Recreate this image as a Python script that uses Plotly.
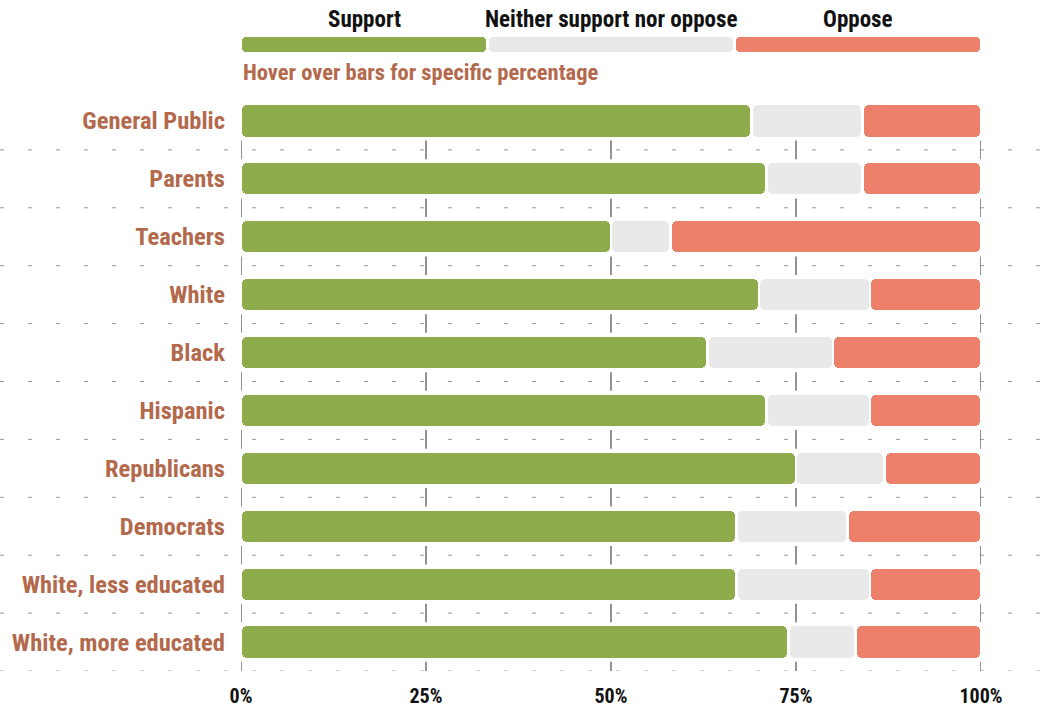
import plotly.graph_objects as go

categories = ["General Public", "Parents", "Teachers", "White", "Black", "Hispanic",
              "Republicans", "Democrats", "White, less educated", "White, more educated"]
support = [69, 71, 50, 70, 63, 71, 75, 67, 67, 74]
neither = [15, 13, 8, 15, 17, 14, 12, 15, 18, 9]
oppose = [16, 16, 42, 15, 20, 15, 13, 18, 15, 17]

series_names = ["Support", "Neither support nor oppose", "Oppose"]
series_values = [support, neither, oppose]
colors = ["#8fac4c", "#e8e9e8", "#ec806b"]
legend_share = [100 / 3, 100 / 3, 100 / 3]

tick_vals = [0, 25, 50, 75, 100]
tick_text = ["0%", "25%", "50%", "75%", "100%"]

FONT = "Roboto Condensed, Liberation Sans Narrow, Arial Narrow, DejaVu Sans Condensed, Roboto, sans-serif"
BROWN = "#b3694b"
GAP = 0.4  # visual gap between segments (axis units)

fig = go.Figure()


def add_segments(ycats, values, starts, color, name, yaxis, width, radius, hover):
    fig.add_trace(go.Bar(
        y=ycats, x=[max(v - GAP, 0) for v in values],
        base=[s + GAP / 2 for s in starts], orientation="h",
        name=name, yaxis=yaxis, width=width,
        marker=dict(color=color, cornerradius=radius, line=dict(width=0)),
        customdata=values,
        hovertemplate=("%{y}<br>" + name + ": %{customdata}%<extra></extra>") if hover else None,
        hoverinfo=None if hover else "skip",
        showlegend=False,
    ))


starts = [0] * len(categories)
for name, vals, col in zip(series_names, series_values, colors):
    add_segments(categories, vals, starts, col, name, "y", 0.54, 5, True)
    starts = [s + v for s, v in zip(starts, vals)]

# legend strip
lstart = 0
for name, share, col in zip(series_names, legend_share, colors):
    add_segments(["legend"], [share], [lstart], col, name, "y2", 1, 4, False)
    lstart += share

shapes = []
for i in range(len(categories)):
    yy = i + 0.5
    shapes.append(dict(type="line", xref="paper", yref="y", x0=-0.3257, x1=1.1,
                       y0=yy, y1=yy, line=dict(color="#999999", width=1, dash="4px,24px"),
                       layer="below"))
    for tv in tick_vals:
        shapes.append(dict(type="line", xref="x", yref="y", x0=tv, x1=tv,
                           y0=yy - 0.16, y1=yy + 0.16,
                           line=dict(color="#6f6f6f", width=1.5), layer="below"))

annotations = []
cum = 0
for name, share in zip(series_names, legend_share):
    annotations.append(dict(x=cum + share / 2, y=0.985, xref="x", yref="paper",
                            text=name, showarrow=False, xanchor="center", yanchor="middle",
                            font=dict(family=FONT, size=23, color="#111111", weight=700)))
    cum += share
annotations.append(dict(x=0, y=0.906, xref="x", yref="paper",
                        text="Hover over bars for specific percentage", showarrow=False,
                        xanchor="left", yanchor="middle",
                        font=dict(family=FONT, size=22.5, color=BROWN, weight=700)))

fig.update_layout(
    width=1055, height=707,
    margin=dict(l=241, r=74, t=10, b=36),
    barmode="overlay",
    bargap=0,
    plot_bgcolor="white", paper_bgcolor="white",
    shapes=shapes, annotations=annotations,
    xaxis=dict(range=[0, 100], tickvals=tick_vals, ticktext=tick_text,
               showgrid=False, zeroline=False, showline=False, fixedrange=True,
               ticks="", ticklabelstandoff=11, automargin=False,
               tickfont=dict(family=FONT, size=20, color="#111111", weight=700)),
    yaxis=dict(domain=[0, 0.876], type="category", categoryorder="array",
               categoryarray=categories, range=[9.5, -0.5],
               showgrid=False, zeroline=False, showline=False, ticks="",
               ticklabelstandoff=15, fixedrange=True, automargin=False,
               tickfont=dict(family=FONT, size=24.5, color=BROWN, weight=700)),
    yaxis2=dict(domain=[0.9365, 0.959], range=[-0.5, 0.5], showticklabels=False,
                showgrid=False, zeroline=False, anchor="x", fixedrange=True,
                automargin=False),
    hoverlabel=dict(font=dict(family=FONT)),
)

fig.write_html("out.html", config={"displayModeBar": False},
               post_script="document.body.style.margin='0px';")
